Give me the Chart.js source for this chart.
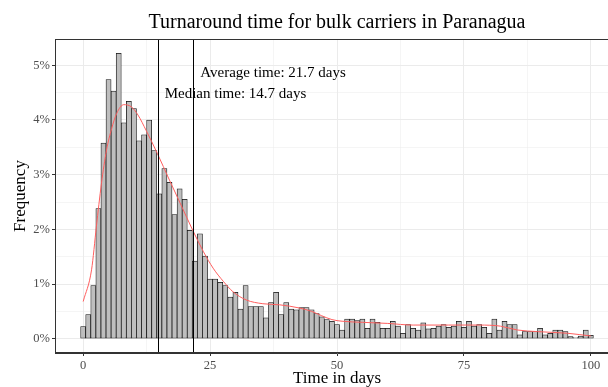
<!DOCTYPE html>
<html>
<head>
<meta charset="utf-8">
<script src="https://cdn.jsdelivr.net/npm/chart.js@4.4.0/dist/chart.umd.min.js"></script>
<style>
    body { margin: 0; background: #fff; overflow: hidden; }
</style>
</head>
<body>
<canvas id="turnaround" width="620" height="387"></canvas>
<script>
// one bin per day, 0..100
var days = [0, 1, 2, 3, 4, 5, 6, 7, 8, 9, 10, 11, 12, 13, 14, 15, 16, 17, 18, 19, 20,
    21, 22, 23, 24, 25, 26, 27, 28, 29, 30, 31, 32, 33, 34, 35, 36, 37, 38, 39, 40,
    41, 42, 43, 44, 45, 46, 47, 48, 49, 50, 51, 52, 53, 54, 55, 56, 57, 58, 59, 60,
    61, 62, 63, 64, 65, 66, 67, 68, 69, 70, 71, 72, 73, 74, 75, 76, 77, 78, 79, 80,
    81, 82, 83, 84, 85, 86, 87, 88, 89, 90, 91, 92, 93, 94, 95, 96, 97, 98, 99, 100];
// share of calls in each bin, in %
var freqPct = [0.22, 0.44, 0.97, 2.38, 3.58, 4.74, 4.53, 5.22, 3.95, 4.34, 4.21,
    3.62, 3.73, 4.00, 3.44, 2.65, 3.11, 2.86, 2.27, 2.74, 2.55,
    1.98, 1.42, 1.92, 1.51, 1.09, 1.09, 1.03, 0.97, 0.76, 0.85,
    0.54, 0.97, 0.59, 0.59, 0.59, 0.38, 0.66, 0.85, 0.44, 0.66,
    0.54, 0.53, 0.57, 0.57, 0.53, 0.46, 0.40, 0.35, 0.32, 0.26,
    0.16, 0.36, 0.36, 0.33, 0.36, 0.19, 0.36, 0.30, 0.19, 0.19,
    0.32, 0.23, 0.10, 0.26, 0.19, 0.16, 0.29, 0.18, 0.19, 0.23,
    0.26, 0.21, 0.23, 0.32, 0.21, 0.32, 0.23, 0.26, 0.21, 0.10,
    0.36, 0.16, 0.32, 0.26, 0.26, 0.07, 0.13, 0.13, 0.13, 0.19,
    0.07, 0.10, 0.16, 0.16, 0.13, 0.04, 0.02, 0.05, 0.16, 0.06];
// density curve
var curveDays = [0, 1.65, 2.6, 3.6, 4.6, 5.6, 6.6, 8, 9.5, 10.8, 12.4, 14.6, 17, 19.1,
    21.7, 23.7, 25.6, 27.6, 29.5, 32.1, 35.4, 38.7, 42.7, 45, 47, 49, 51, 55, 60,
    65, 72, 78, 82.2, 85.5, 89.5, 95.4, 100];
var curvePct = [0.68, 1.26, 2.05, 2.84, 3.45, 3.84, 4.12, 4.28, 4.24, 4.09, 3.81, 3.39, 2.9, 2.48,
    1.96, 1.59, 1.29, 1.05, 0.86, 0.71, 0.64, 0.62, 0.56, 0.50, 0.42, 0.35, 0.32, 0.30, 0.28,
    0.25, 0.25, 0.25, 0.23, 0.16, 0.13, 0.10, 0.05];

var xTicks = [0, 25, 50, 75, 100];
var xMinor = [12.5, 37.5, 62.5, 87.5];
var yTicks = [0, 1, 2, 3, 4, 5];
var yMinor = [0.5, 1.5, 2.5, 3.5, 4.5];

var medianTime = 14.7;
var averageTime = 21.7;

var serif = '"Liberation Serif", "Times New Roman", serif';

var barData = days.map(function (d, i) { return { x: d, y: freqPct[i] }; });
var curveData = curveDays.map(function (d, i) { return { x: d, y: curvePct[i] }; });

function tickList(major, minor) {
    return major.concat(minor).sort(function (a, b) { return a - b; })
        .map(function (v) { return { value: v }; });
}

// vertical lines, their labels and the panel frame
var extras = {
    id: 'extras',
    afterDatasetsDraw: function (chart) {
        var ctx = chart.ctx;
        var a = chart.chartArea;
        var x = chart.scales.x;
        var y = chart.scales.y;
        ctx.save();
        ctx.strokeStyle = '#000';
        ctx.lineWidth = 1;
        [medianTime, averageTime].forEach(function (v) {
            var px = Math.round(x.getPixelForValue(v)) + 0.5;
            ctx.beginPath();
            ctx.moveTo(px, a.top);
            ctx.lineTo(px, a.bottom);
            ctx.stroke();
        });
        ctx.fillStyle = '#000';
        ctx.font = '15px ' + serif;
        ctx.textAlign = 'center';
        ctx.textBaseline = 'middle';
        ctx.fillText('Average time: ' + averageTime + ' days', x.getPixelForValue(37.4), y.getPixelForValue(4.85));
        ctx.fillText('Median time: ' + medianTime + ' days', x.getPixelForValue(30.0), y.getPixelForValue(4.47));
        ctx.strokeStyle = '#333';
        ctx.strokeRect(a.left + 0.5, a.top + 0.5, a.right - a.left - 1, a.bottom - a.top - 1);
        ctx.restore();
    }
};

new Chart(document.getElementById('turnaround'), {
    type: 'bar',
    data: {
        datasets: [{
            type: 'line',
            data: curveData,
            borderColor: '#ff5e5e',
            borderWidth: 1,
            pointRadius: 0,
            fill: false,
            cubicInterpolationMode: 'monotone',
            order: 0
        }, {
            type: 'bar',
            data: barData,
            backgroundColor: '#bebebe',
            borderColor: '#111',
            borderWidth: 0.75,
            borderSkipped: false,
            barPercentage: 1,
            categoryPercentage: 1,
            order: 1
        }]
    },
    options: {
        responsive: false,
        animation: false,
        layout: { padding: { left: 0, right: 1, top: 0, bottom: 0 } },
        plugins: {
            legend: { display: false },
            tooltip: { enabled: false },
            title: {
                display: true,
                fullSize: false,
                text: 'Turnaround time for bulk carriers in Paranagua',
                color: '#000',
                font: { family: serif, size: 20, weight: 'normal', lineHeight: 1.2 },
                padding: { top: 11, bottom: 4 }
            }
        },
        scales: {
            x: {
                type: 'linear',
                offset: false,
                min: -5.55,
                max: 105.55,
                afterBuildTicks: function (s) { s.ticks = tickList(xTicks, xMinor); },
                afterFit: function (s) { s.height = 34; },
                ticks: {
                    autoSkip: false,
                    maxRotation: 0,
                    padding: 2,
                    color: '#4d4d4d',
                    font: { family: serif, size: 12.5 },
                    callback: function (v) { return xTicks.indexOf(v) >= 0 ? String(v) : ''; }
                },
                grid: {
                    offset: false,
                    color: '#ebebeb',
                    lineWidth: function (c) { return c.tick && xTicks.indexOf(c.tick.value) >= 0 ? 1 : 0.5; },
                    tickLength: 3,
                    tickColor: function (c) { return c.tick && xTicks.indexOf(c.tick.value) >= 0 ? '#333' : 'rgba(0,0,0,0)'; }
                },
                border: { color: '#333', width: 1 },
                title: {
                    display: true,
                    text: 'Time in days',
                    color: '#000',
                    font: { family: serif, size: 17, lineHeight: 1 },
                    padding: 0
                }
            },
            y: {
                min: -0.261,
                max: 5.481,
                afterBuildTicks: function (s) { s.ticks = tickList(yTicks, yMinor); },
                afterFit: function (s) { s.width = 55; },
                ticks: {
                    autoSkip: false,
                    padding: 2,
                    color: '#4d4d4d',
                    font: { family: serif, size: 12.5 },
                    callback: function (v) { return yTicks.indexOf(v) >= 0 ? v + '%' : ''; }
                },
                grid: {
                    color: '#ebebeb',
                    lineWidth: function (c) { return c.tick && yTicks.indexOf(c.tick.value) >= 0 ? 1 : 0.5; },
                    tickLength: 3,
                    tickColor: function (c) { return c.tick && yTicks.indexOf(c.tick.value) >= 0 ? '#333' : 'rgba(0,0,0,0)'; }
                },
                border: { color: '#333', width: 1 },
                title: {
                    display: true,
                    text: 'Frequency',
                    color: '#000',
                    font: { family: serif, size: 17, lineHeight: 1.2 },
                    padding: { top: 10, bottom: 0 }
                }
            }
        }
    },
    plugins: [extras]
});
</script>
</body>
</html>
